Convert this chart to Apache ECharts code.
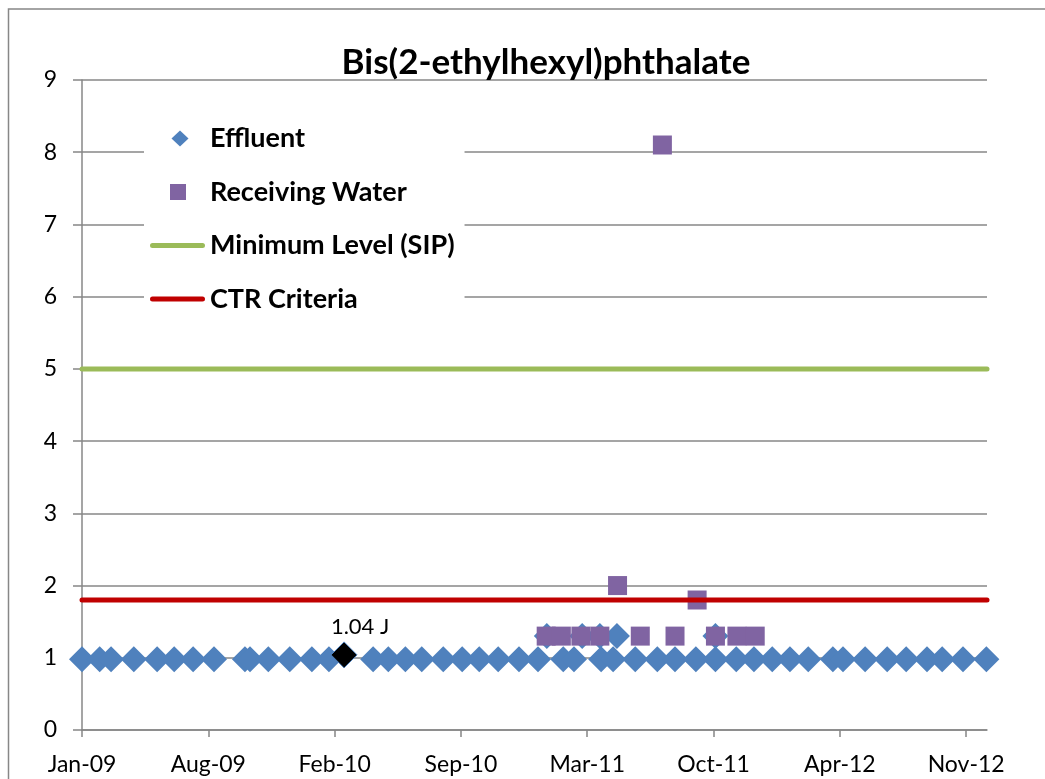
<!DOCTYPE html>
<html lang="en">

<head>
    <meta charset="UTF-8">
    <title>Bis(2-ethylhexyl)phthalate</title>
    <script src="https://cdn.jsdelivr.net/npm/echarts@6/dist/echarts.min.js"></script>
    <style>
        html, body { margin: 0; padding: 0; background: #fff; }
        #chart { width: 1045px; height: 779px; }
    </style>
</head>

<body>
    <div id="chart"></div>
    <script>
        // x axis runs in days counted from 15 Jan 2009, a tick every 200 days
        var baseDate = '2009-01-15';
        var tickStep = 200;
        var axisEnd = 1433;
        var xTickLabels = ['Jan-09', 'Aug-09', 'Feb-10', 'Sep-10', 'Mar-11', 'Oct-11', 'Apr-12', 'Nov-12'];

        var effluentDates = ['2009-01-15', '2009-02-12', '2009-03-02', '2009-04-07', '2009-05-14', '2009-06-10',
            '2009-07-10', '2009-08-12', '2009-09-30', '2009-10-08', '2009-11-06', '2009-12-10', '2010-01-14',
            '2010-02-10', '2010-04-21', '2010-05-15', '2010-06-11', '2010-07-07', '2010-08-10', '2010-09-09',
            '2010-10-06', '2010-11-05', '2010-12-08', '2011-01-07', '2011-01-21', '2011-02-16', '2011-03-05',
            '2011-03-18', '2011-04-15', '2011-04-17', '2011-05-06', '2011-05-12', '2011-06-10', '2011-07-15',
            '2011-08-12', '2011-09-14', '2011-10-15', '2011-10-15', '2011-11-17', '2011-12-15', '2012-01-13',
            '2012-02-10', '2012-03-10', '2012-04-18', '2012-05-04', '2012-06-08', '2012-07-13', '2012-08-12',
            '2012-09-14', '2012-10-08', '2012-11-10', '2012-12-17'];
        var effluentValues = [0.98, 0.98, 0.98, 0.98, 0.98, 0.98,
            0.98, 0.98, 0.98, 0.98, 0.98, 0.98, 0.98,
            0.98, 0.98, 0.98, 0.98, 0.98, 0.98, 0.98,
            0.98, 0.98, 0.98, 0.98, 1.3, 0.98, 0.98,
            1.3, 1.3, 0.98, 0.98, 1.3, 0.98, 0.98,
            0.98, 0.98, 0.98, 1.3, 0.98, 0.98, 0.98,
            0.98, 0.98, 0.98, 0.98, 0.98, 0.98, 0.98,
            0.98, 0.98, 0.98, 0.98];

        var receivingDates = ['2011-01-20', '2011-02-13', '2011-03-16', '2011-04-15', '2011-05-13', '2011-06-18',
            '2011-07-23', '2011-08-12', '2011-09-16', '2011-10-15', '2011-11-18', '2011-12-17'];
        var receivingValues = [1.3, 1.3, 1.3, 1.3, 2.0, 1.3, 8.1, 1.3, 1.8, 1.3, 1.3, 1.3];

        // the one detected effluent result, flagged J
        var detectDates = ['2010-03-06'];
        var detectValues = [1.04];
        var detectLabels = ['1.04 J'];

        var minimumLevel = 5;
        var ctrCriteria = 1.8;

        function dayOf(s) {
            var p = s.split('-'), b = baseDate.split('-');
            return (Date.UTC(+p[0], p[1] - 1, +p[2]) - Date.UTC(+b[0], b[1] - 1, +b[2])) / 86400000;
        }

        function pairs(dates, values) {
            var out = [];
            for (var i = 0; i < dates.length; i++) {
                out.push([dayOf(dates[i]), values[i]]);
            }
            return out;
        }

        var tickValues = xTickLabels.map(function(l, i) { return i * tickStep; });

        var font = 'Lato';
        var grey = '#878787';
        var blue = '#4F81BD', purple = '#8064A2', green = '#9BBB59', red = '#C00000';

        // legend icons are drawn in a full 55x16 box (tiny corner dots) so nothing gets stretched
        var box = 'path://M0,0h0.01v0.01z M55,16h-0.01v-0.01z ';
        var iconDiamond = box + 'M30,0 L38.5,8 L30,16 L21.5,8 Z';
        var iconSquare = box + 'M20,0 H36 V16 H20 Z';
        var iconLine = box + 'M2.5,5.5 H52.5 A2.5,2.5 0 0 1 52.5,10.5 H2.5 A2.5,2.5 0 0 1 2.5,5.5 Z';

        var chart = echarts.init(document.getElementById('chart'));
        chart.setOption({
            animation: false,
            title: {
                text: 'Bis(2-ethylhexyl)phthalate',
                left: 541,
                top: 40,
                textAlign: 'center',
                textStyle: { fontFamily: font, fontSize: 35, fontWeight: 'bold', color: '#000' }
            },
            graphic: [{
                type: 'rect',
                z: -1,
                shape: { x: 8.5, y: 9, width: 1200, height: 1000 },
                style: { fill: 'none', stroke: grey, lineWidth: 1.5 }
            }],
            legend: {
                left: 144,
                top: 111,
                orient: 'vertical',
                backgroundColor: '#fff',
                padding: [14, 10, 14, 6],
                itemWidth: 55,
                itemHeight: 16,
                itemGap: 26.5,
                textStyle: { fontFamily: font, fontSize: 27, fontWeight: 'bold', color: '#000' },
                data: [
                    { name: 'Effluent', icon: iconDiamond, itemStyle: { color: blue, borderWidth: 0, opacity: 1 } },
                    { name: 'Receiving Water', icon: iconSquare, itemStyle: { color: purple, borderWidth: 0, opacity: 1 } },
                    { name: 'Minimum Level (SIP)', icon: iconLine, itemStyle: { color: green, borderWidth: 0, opacity: 1 } },
                    { name: 'CTR Criteria', icon: iconLine, itemStyle: { color: red, borderWidth: 0, opacity: 1 } }
                ]
            },
            grid: { left: 82, right: 58, top: 80, bottom: 49 },
            xAxis: {
                type: 'value',
                min: 0,
                max: axisEnd,
                axisLine: { lineStyle: { color: grey, width: 1.5 } },
                axisTick: { show: true, length: 7, customValues: tickValues, lineStyle: { color: grey, width: 1.5 } },
                axisLabel: {
                    customValues: tickValues,
                    margin: 23,
                    fontFamily: font,
                    fontSize: 23,
                    color: '#000',
                    formatter: function(v) { return xTickLabels[Math.round(v / tickStep)]; }
                },
                splitLine: { show: false }
            },
            yAxis: {
                type: 'value',
                min: 0,
                max: 9,
                interval: 1,
                axisLine: { show: true, lineStyle: { color: grey, width: 1.5 } },
                axisTick: { show: true, length: 9, lineStyle: { color: grey, width: 1.5 } },
                axisLabel: { margin: 25, fontFamily: font, fontSize: 23, color: '#000' },
                splitLine: { lineStyle: { color: grey, width: 1.5 } }
            },
            series: [{
                name: 'Minimum Level (SIP)',
                type: 'line',
                symbol: 'none',
                color: green,
                lineStyle: { width: 5, cap: 'round' },
                data: [[0, minimumLevel], [axisEnd, minimumLevel]]
            }, {
                name: 'CTR Criteria',
                type: 'line',
                symbol: 'none',
                color: red,
                lineStyle: { width: 5, cap: 'round' },
                data: [[0, ctrCriteria], [axisEnd, ctrCriteria]]
            }, {
                name: 'Effluent',
                type: 'scatter',
                symbol: 'diamond',
                symbolSize: 26,
                itemStyle: { color: blue, opacity: 1 },
                data: pairs(effluentDates, effluentValues)
            }, {
                name: 'Receiving Water',
                type: 'scatter',
                symbol: 'rect',
                symbolSize: 19,
                itemStyle: { color: purple, opacity: 1 },
                data: pairs(receivingDates, receivingValues)
            }, {
                name: 'Detected',
                type: 'scatter',
                symbol: 'diamond',
                symbolSize: 26,
                itemStyle: { color: '#000', borderColor: blue, borderWidth: 1, opacity: 1 },
                label: {
                    show: true,
                    position: 'top',
                    offset: [16, 2],
                    fontFamily: font,
                    fontSize: 22,
                    color: '#000',
                    formatter: function(p) { return detectLabels[p.dataIndex]; }
                },
                data: pairs(detectDates, detectValues)
            }]
        });
    </script>
</body>

</html>
